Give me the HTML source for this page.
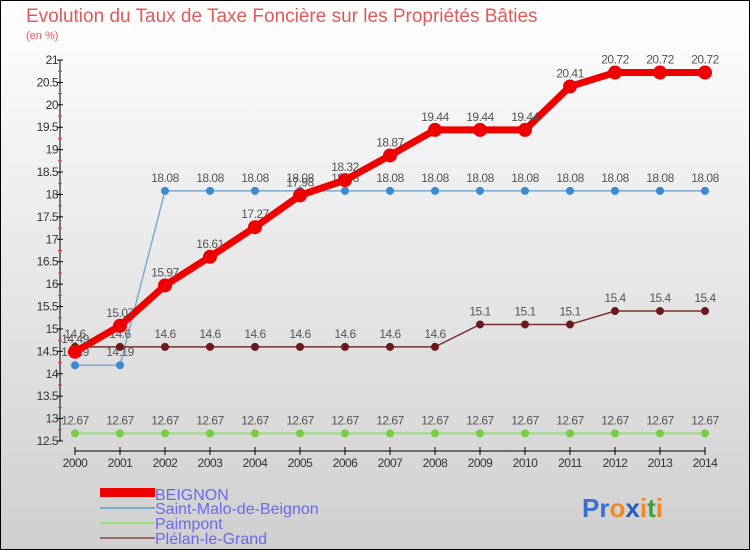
<!DOCTYPE html>
<html><head><meta charset="utf-8"><style>
body{margin:0;width:750px;height:550px;overflow:hidden}
svg{display:block;font-family:"Liberation Sans","DejaVu Sans",sans-serif}
</style></head><body>
<svg width="750" height="550" id="c">
<defs><linearGradient id="bg" x1="0" y1="0" x2="0" y2="1"><stop offset="0" stop-color="#ffffff"/><stop offset="1" stop-color="#cfcfcf"/></linearGradient></defs>
<rect x="0.5" y="0.5" width="749" height="549" fill="url(#bg)" stroke="#000"/>
<text x="26" y="22" font-size="19" fill="#e05a5a">Evolution du Taux de Taxe Foncière sur les Propriétés Bâties</text>
<text x="26" y="39" font-size="11" fill="#e05a5a">(en %)</text>
<g id="axes"></g><g id="series"></g>
<g>
<rect x="100" y="488" width="55" height="9" fill="#e00"/>
<text x="155" y="500" font-size="16" fill="#6a6aee">BEIGNON</text>
<rect x="100" y="507" width="55" height="2" fill="#7aaad0"/>
<text x="155" y="514" font-size="16" fill="#6a6aee">Saint-Malo-de-Beignon</text>
<rect x="100" y="522" width="55" height="2" fill="#99dd77"/>
<text x="155" y="529" font-size="16" fill="#6a6aee">Paimpont</text>
<rect x="100" y="537" width="55" height="2" fill="#9a6a6a"/>
<text x="155" y="544" font-size="16" fill="#6a6aee">Plélan-le-Grand</text>
</g>
<text x="582" y="517" font-size="26" font-weight="bold"><tspan fill="#3a6fd0">Pr</tspan><tspan fill="#f08a20">o</tspan><tspan fill="#2a5ac0">x</tspan><tspan fill="#f08a20">i</tspan><tspan fill="#40a040">t</tspan><tspan fill="#f08a20">i</tspan></text>
</svg>
<script>
const years=[2000,2001,2002,2003,2004,2005,2006,2007,2008,2009,2010,2011,2012,2013,2014];
const beignon=[14.49,15.07,15.97,16.61,17.27,17.98,18.32,18.87,19.44,19.44,19.44,20.41,20.72,20.72,20.72];
const saintMalo=[14.19,14.19,18.08,18.08,18.08,18.08,18.08,18.08,18.08,18.08,18.08,18.08,18.08,18.08,18.08];
const paimpont=[12.67,12.67,12.67,12.67,12.67,12.67,12.67,12.67,12.67,12.67,12.67,12.67,12.67,12.67,12.67];
const plelan=[14.6,14.6,14.6,14.6,14.6,14.6,14.6,14.6,14.6,15.1,15.1,15.1,15.4,15.4,15.4];
const yTicks=[12.5,13,13.5,14,14.5,15,15.5,16,16.5,17,17.5,18,18.5,19,19.5,20,20.5,21];
const NS="http://www.w3.org/2000/svg";
const X=i=>75+i*45, Y=v=>441-(v-12.5)*(381/8.5);
function mk(t,a,p){const e=document.createElementNS(NS,t);for(const k in a)e.setAttribute(k,a[k]);p.appendChild(e);return e;}
const ax=document.getElementById('axes');
mk('line',{x1:60,y1:60,x2:60,y2:441,stroke:'#000','stroke-width':1},ax);
mk('line',{x1:75,y1:451,x2:705,y2:451,stroke:'#000','stroke-width':1},ax);
yTicks.forEach(v=>{const y=Y(v);
 mk('line',{x1:57,y1:y,x2:63,y2:y,stroke:'#000'},ax);
 if(v<21){mk('line',{x1:58,y1:Y(v+0.25),x2:62,y2:Y(v+0.25),stroke:'#e33'},ax);}
 const t=mk('text',{x:58,y:y+4,'font-size':12,'text-anchor':'end',fill:'#333','letter-spacing':'-0.5'},ax);t.textContent=v;
 
 });
years.forEach((yr,i)=>{mk('line',{x1:X(i),y1:447,x2:X(i),y2:455,stroke:'#000'},ax);
 const t=mk('text',{x:X(i),y:467,'font-size':12,'text-anchor':'middle',fill:'#333','letter-spacing':'-0.5'},ax);t.textContent=yr;
 
 });
const sg=document.getElementById('series');
function draw(vals,name,color,w,r,fill){
 const g=mk('g',{},sg);
 
 
 mk('polyline',{points:vals.map((v,i)=>X(i)+','+Y(v)).join(' '),fill:'none',stroke:color,'stroke-width':w,'stroke-linejoin':'round'},g);
 vals.forEach((v,i)=>{const c=mk('circle',{cx:X(i),cy:Y(v),r:r,fill:fill,stroke:fill},g);
  
  
  const t=mk('text',{x:X(i),y:Y(v)-9,'font-size':12,'text-anchor':'middle',fill:'#555','letter-spacing':'-0.5'},g);t.textContent=v;
  
  });
}
draw(paimpont,'paimpont','#99dd77',2,3.5,'#77cc44');
draw(saintMalo,'saint-malo','#7aaad0',1.5,3.5,'#3a8ad0');
draw(plelan,'plelan','#7a3030',1.5,3.5,'#6a1a1a');
draw(beignon,'beignon','#ee0000',7,6.5,'#ee0000');
</script>
</body></html>
